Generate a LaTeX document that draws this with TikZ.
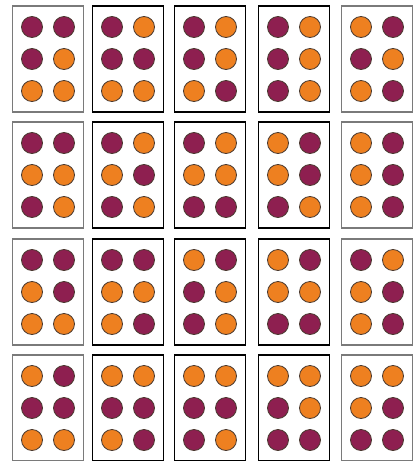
\documentclass[tikz,border=0pt]{standalone}
\usepackage{tikz}
\definecolor{DotPurple}{HTML}{8E1F50}
\definecolor{DotOrange}{HTML}{EE8020}
\definecolor{DotRim}{HTML}{4A3A30}
\definecolor{CardGray}{HTML}{7A7A7A}
\colorlet{dotP}{DotPurple}
\colorlet{dotO}{DotOrange}

\begin{document}
\begin{tikzpicture}[x=1pt, y=-1pt,
    card/.style={fill=white, line width=1.2pt, minimum width=71pt, minimum height=106pt, inner sep=0pt},
    dot/.style={circle, draw=DotRim, line width=0.8pt, minimum size=21pt, inner sep=0pt}]
  \useasboundingbox (0,0) rectangle (414,461);
  % cards, row by row
  \foreach \r/\y in {1/59, 2/175, 3/292, 4/408} {
    \foreach \c/\x/\edge in {1/48/CardGray, 2/128/black, 3/210/black, 4/294/black, 5/377/CardGray} {
      \node[card, draw=\edge] (card\r\c) at (\x,\y) {};
    }
  }
  % dots: row/column, then top-left, top-right, mid-left, mid-right, bottom-left, bottom-right
  \foreach \r/\c/\a/\b/\d/\e/\f/\g in {
      1/1/P/P/P/O/O/O, 1/2/P/O/P/P/O/O, 1/3/P/O/P/O/O/P, 1/4/P/O/P/O/P/O, 1/5/O/P/P/O/O/P,
      2/1/P/P/O/O/P/O, 2/2/P/O/O/P/P/O, 2/3/P/O/O/O/P/P, 2/4/O/P/O/P/P/O, 2/5/O/P/O/P/O/P,
      3/1/P/P/O/P/O/O, 3/2/P/P/O/O/O/P, 3/3/O/P/P/O/P/O, 3/4/O/P/O/O/P/P, 3/5/P/O/O/P/O/P,
      4/1/O/P/P/P/O/O, 4/2/O/O/P/P/O/P, 4/3/O/O/P/P/P/O, 4/4/O/O/P/O/P/P, 4/5/O/O/O/P/P/P} {
    \foreach \k/\dx/\dy/\col in {1/-16/-32/\a, 2/16/-32/\b, 3/-16/0/\d, 4/16/0/\e, 5/-16/32/\f, 6/16/32/\g} {
      \node[dot, fill=dot\col] (dot\r\c\k) at ([shift={(\dx,\dy)}]card\r\c.center) {};
    }
  }
\end{tikzpicture}
\end{document}
